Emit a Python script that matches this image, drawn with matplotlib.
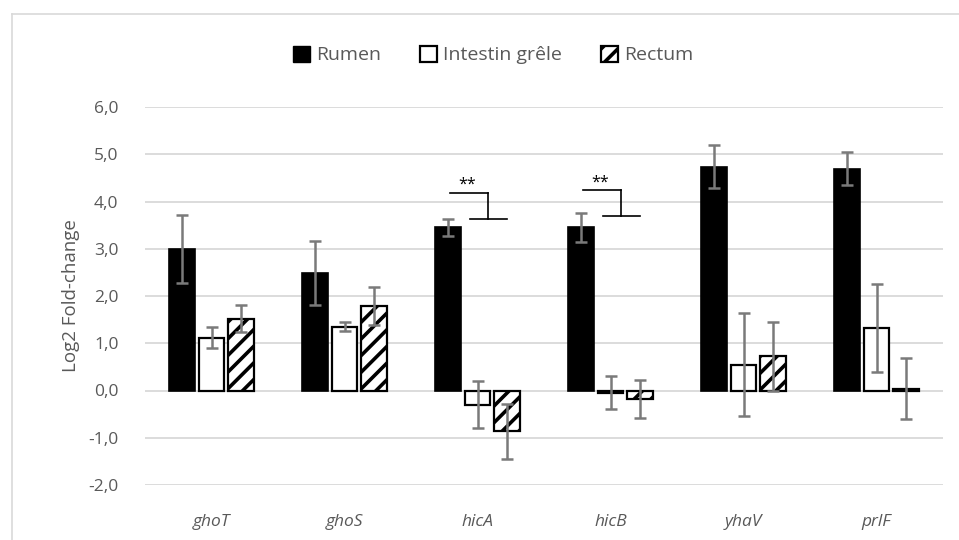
import numpy as np
import matplotlib
matplotlib.use("Agg")
import matplotlib.pyplot as plt
from matplotlib.patches import Patch

# ----- data -----
genes = ["ghoT", "ghoS", "hicA", "hicB", "yhaV", "prlF"]
series = ["Rumen", "Intestin grêle", "Rectum"]

rumen = [3.00, 2.48, 3.45, 3.45, 4.74, 4.69]
rumen_err = [0.72, 0.68, 0.17, 0.30, 0.45, 0.35]
intestin = [1.12, 1.35, -0.30, -0.05, 0.55, 1.33]
intestin_err = [0.23, 0.10, 0.50, 0.35, 1.08, 0.93]
rectum = [1.52, 1.79, -0.86, -0.18, 0.72, 0.04]
rectum_err = [0.28, 0.40, 0.58, 0.40, 0.74, 0.65]

# significance brackets: gene, upper y, lower y
sig_genes = ["hicA", "hicB"]
sig_upper = [4.19, 4.25]
sig_lower = [3.62, 3.70]
sig_text = ["**", "**"]

yticks = [-2, -1, 0, 1, 2, 3, 4, 5, 6]

# ----- plot -----
plt.rcParams["font.family"] = ["Open Sans", "DejaVu Sans"]
plt.rcParams["hatch.linewidth"] = 2.6
grey = "#595959"
errc = "#7a7a7a"

fig = plt.figure(figsize=(9.59, 5.4), dpi=100)
ax = fig.add_axes([145 / 959, 1 - 485 / 540, (943 - 145) / 959, (485 - 107) / 540])

x = np.arange(len(genes))
w = 0.195
off = 0.225
ekw = dict(ecolor=errc, elinewidth=1.8, capsize=4.5, capthick=1.8)

ax.bar(x - off, rumen, w, yerr=rumen_err, color="black", edgecolor="black",
       linewidth=1.2, error_kw=ekw, zorder=3)
ax.bar(x, intestin, w, yerr=intestin_err, color="white", edgecolor="black",
       linewidth=1.6, error_kw=ekw, zorder=3)
ax.bar(x + off, rectum, w, yerr=rectum_err, color="white", edgecolor="black",
       hatch="//", linewidth=1.6, error_kw=ekw, zorder=3)

# brackets
for g, yu, yl, t in zip(sig_genes, sig_upper, sig_lower, sig_text):
    i = genes.index(g)
    xv = i + 0.08
    ax.plot([i - 0.21, xv], [yu, yu], color="black", lw=1.2, zorder=4)
    ax.plot([xv, xv], [yu, yl], color="black", lw=1.2, zorder=4)
    ax.plot([i - 0.06, i + 0.22], [yl, yl], color="black", lw=1.2, zorder=4)
    ax.text(i - 0.08, yu - 0.01, t, ha="center", va="bottom", fontsize=11.5,
            color="black", zorder=4)

ax.set_xlim(-0.5, len(genes) - 0.5)
ax.set_ylim(-2, 6)
ax.set_yticks(yticks)
ax.set_yticklabels([f"{v:.1f}".replace(".", ",") for v in yticks])
ax.set_xticks(x)
ax.set_xticklabels(genes, style="italic")
ax.tick_params(axis="both", length=0, labelsize=12.5, labelcolor=grey)
ax.tick_params(axis="x", pad=21)
ax.tick_params(axis="y", pad=19)
ax.yaxis.grid(True, color="#d9d9d9", lw=1.3, zorder=0)
ax.set_axisbelow(True)
for s in ax.spines.values():
    s.set_visible(False)
ax.set_ylabel("Log2 Fold-change", fontsize=13.5, color=grey, labelpad=6)

handles = [
    Patch(facecolor="black", edgecolor="black", label=series[0]),
    Patch(facecolor="white", edgecolor="black", linewidth=1.6, label=series[1]),
    Patch(facecolor="white", edgecolor="black", hatch="//", linewidth=1.6, label=series[2]),
]
leg = fig.legend(handles=handles, loc="center", bbox_to_anchor=(493 / 959, 1 - 55 / 540),
                 ncol=3, frameon=False, fontsize=14, handlelength=0.9, handleheight=0.9,
                 handletextpad=0.3, columnspacing=2.0)
for t in leg.get_texts():
    t.set_color(grey)

# chart area border (top and left visible)
fig.add_artist(plt.Line2D([12 / 959, 1], [1 - 14 / 540, 1 - 14 / 540],
                          color="#d9d9d9", lw=1.2, transform=fig.transFigure))
fig.add_artist(plt.Line2D([12 / 959, 12 / 959], [0, 1 - 14 / 540],
                          color="#d9d9d9", lw=1.2, transform=fig.transFigure))

fig.savefig("out.png", dpi=100)
